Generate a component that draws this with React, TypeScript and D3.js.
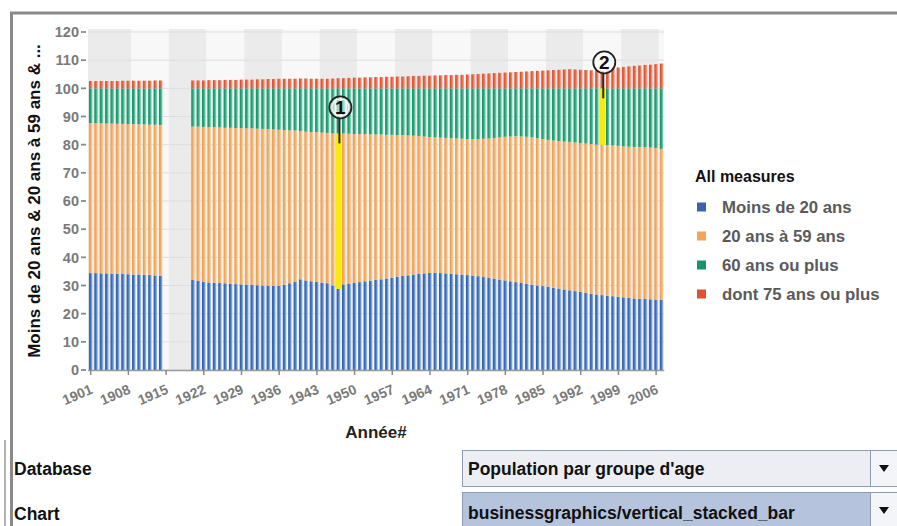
import React from 'react';
import * as d3 from 'd3';

// ---------- DATA ----------
const dataYears: number[] = [...d3.range(1901, 1915), ...d3.range(1920, 2008)];
const axisYears: number[] = d3.range(1901, 2008);
const tickYears: number[] = d3.range(1901, 2007, 7);
const yTicks: number[] = d3.range(0, 121, 10);

const seriesKeys = ['Moins de 20 ans', '20 ans à 59 ans', '60 ans ou plus', 'dont 75 ans ou plus'];

const under20: number[] = [
  34.4, 34.4, 34.3, 34.3, 34.2, 34.1, 34.1, 34.0, 33.9, 33.9, 33.8, 33.7, 33.6, 33.4,
  32.0, 31.6, 31.3, 31.1, 31.0, 30.9, 30.8, 30.6, 30.5, 30.4,
  30.3, 30.2, 30.1, 30.0, 30.0, 29.9, 29.9, 30.3, 30.8, 31.4,
  32.2, 31.8, 31.5, 31.3, 31.0, 30.8, 30.0, 28.8, 30.4, 30.7,
  30.9, 31.2, 31.5, 31.7, 32.0, 32.2, 32.5, 32.8, 33.1, 33.4,
  33.6, 33.9, 34.1, 34.3, 34.5, 34.5, 34.4, 34.3, 34.2, 34.0,
  33.9, 33.7, 33.5, 33.3, 33.0, 32.7, 32.4, 32.1, 31.8, 31.5,
  31.2, 30.9, 30.6, 30.3, 30.0, 29.8, 29.5, 29.2, 28.9, 28.6,
  28.3, 28.0, 27.7, 27.4, 27.1, 26.8, 26.6, 26.4, 26.2, 26.0,
  25.8, 25.6, 25.4, 25.3, 25.2, 25.1, 25.0, 24.9,
];

const age20to59: number[] = [
  53.3, 53.2, 53.3, 53.2, 53.3, 53.3, 53.3, 53.3, 53.4, 53.3, 53.4, 53.4, 53.5, 53.6,
  54.4, 54.8, 55.0, 55.1, 55.2, 55.2, 55.2, 55.4, 55.4, 55.5,
  55.5, 55.6, 55.6, 55.6, 55.5, 55.5, 55.4, 54.9, 54.3, 53.6,
  52.6, 52.8, 53.0, 53.1, 53.3, 53.4, 54.0, 55.2, 53.6, 53.2,
  52.9, 52.6, 52.2, 52.0, 51.6, 51.4, 51.0, 50.7, 50.3, 50.0,
  49.7, 49.3, 49.0, 48.6, 48.2, 48.1, 48.1, 48.1, 48.1, 48.2,
  48.2, 48.3, 48.5, 48.7, 49.1, 49.5, 50.0, 50.5, 51.0, 51.4,
  51.8, 52.0, 52.2, 52.3, 52.3, 52.2, 52.2, 52.3, 52.4, 52.5,
  52.7, 52.8, 52.9, 53.0, 53.1, 53.2, 53.3, 53.4, 53.5, 53.6,
  53.6, 53.7, 53.8, 53.9, 53.9, 53.9, 53.8, 53.6,
];

const age60plus: number[] = [
  12.3, 12.4, 12.4, 12.5, 12.5, 12.6, 12.6, 12.7, 12.7, 12.8, 12.8, 12.9, 12.9, 13.0,
  13.6, 13.6, 13.7, 13.8, 13.8, 13.9, 14.0, 14.0, 14.1, 14.1,
  14.2, 14.2, 14.3, 14.4, 14.5, 14.6, 14.7, 14.8, 14.9, 15.0,
  15.2, 15.4, 15.5, 15.6, 15.7, 15.8, 16.0, 16.0, 16.0, 16.1,
  16.2, 16.2, 16.3, 16.3, 16.4, 16.4, 16.5, 16.5, 16.6, 16.6,
  16.7, 16.8, 16.9, 17.1, 17.3, 17.4, 17.5, 17.6, 17.7, 17.8,
  17.9, 18.0, 18.0, 18.0, 17.9, 17.8, 17.6, 17.4, 17.2, 17.1,
  17.0, 17.1, 17.2, 17.4, 17.7, 18.0, 18.3, 18.5, 18.7, 18.9,
  19.0, 19.2, 19.4, 19.6, 19.8, 20.0, 20.1, 20.2, 20.3, 20.4,
  20.6, 20.7, 20.8, 20.8, 20.9, 21.0, 21.2, 21.5,
];

const age75plus: number[] = [
  2.6, 2.6, 2.6, 2.6, 2.6, 2.6, 2.7, 2.7, 2.7, 2.7, 2.7, 2.7, 2.8, 2.8,
  2.8, 2.8, 2.8, 2.9, 2.9, 2.9, 3.0, 3.0, 3.0, 3.1,
  3.1, 3.1, 3.2, 3.2, 3.3, 3.3, 3.4, 3.4, 3.4, 3.4,
  3.5, 3.5, 3.4, 3.4, 3.4, 3.4, 3.5, 3.6, 3.6, 3.7,
  3.8, 3.8, 3.9, 3.9, 4.0, 4.0, 4.1, 4.1, 4.2, 4.2,
  4.3, 4.4, 4.4, 4.5, 4.5, 4.6, 4.6, 4.7, 4.7, 4.8,
  4.8, 4.9, 5.0, 5.1, 5.2, 5.3, 5.4, 5.5, 5.6, 5.7,
  5.8, 5.9, 6.0, 6.1, 6.2, 6.3, 6.4, 6.5, 6.6, 6.7,
  6.8, 6.7, 6.6, 6.5, 6.4, 6.4, 6.5, 6.8, 7.1, 7.4,
  7.6, 7.8, 8.0, 8.1, 8.3, 8.4, 8.6, 8.8,
];

const highlightYears: number[] = [1947, 1996];
const highlightSeries: number[] = [1, 2];
const highlightLabels: string[] = ['1', '2'];

// ---------- STYLE ----------
const darkC = ['#2c5aa2', '#ee9a48', '#138c64', '#d94a2e'];
const midC = ['#3f72c2', '#f5ac62', '#24a57c', '#e8603f'];
const lightC = ['#a4c6f0', '#fcd8ac', '#86dcba', '#f7ab94'];
const legendC = ['#3a63ad', '#f2a458', '#17946c', '#e0522f'];

const W = 897;
const H = 526;
const plotL = 88;
const plotR = 664.2;
const plotT = 29;
const plotB = 370;
const FONT = "'Liberation Sans', Arial, sans-serif";

export default function App() {
  const x = d3.scaleBand<number>().domain(axisYears).range([plotL, plotR]).paddingInner(0.35).paddingOuter(0.175);
  const y = d3.scaleLinear().domain([0, 120]).range([plotB, 32]);
  const step = x.step();
  const bw = x.bandwidth();
  const cx = (yr: number) => (x(yr) as number) + bw / 2;

  const rows = dataYears.map((yr, i) => ({
    year: yr,
    [seriesKeys[0]]: under20[i],
    [seriesKeys[1]]: age20to59[i],
    [seriesKeys[2]]: age60plus[i],
    [seriesKeys[3]]: age75plus[i],
  }));
  const stacked = d3.stack<any>().keys(seriesKeys)(rows);

  const stripeEdges: number[] = [plotL, ...tickYears.slice(1).map((yr) => plotL + step * (axisYears.indexOf(yr) + 1)), plotR];
  const stripes = stripeEdges.slice(0, -1).map((x0, i) => ({ x0, x1: stripeEdges[i + 1], dark: i % 2 === 0 }));

  return (
    <svg width={W} height={H} style={{ position: 'absolute', left: 0, top: 0, background: '#ffffff' }} fontFamily={FONT}>
      <defs>
        {seriesKeys.map((k, i) => (
          <linearGradient key={k} id={`g${i}`} x1="0" x2="1" y1="0" y2="0">
            <stop offset="0" stopColor={darkC[i]} />
            <stop offset="0.45" stopColor={midC[i]} />
            <stop offset="1" stopColor={lightC[i]} />
          </linearGradient>
        ))}
      </defs>
      <rect x={0} y={0} width={W} height={H} fill="#ffffff" />

      {/* panel frame */}
      <line x1={10} x2={W} y1={13} y2={13} stroke="#8a8a8a" strokeWidth={3} />
      <line x1={11.5} x2={11.5} y1={12} y2={H} stroke="#8a8a8a" strokeWidth={3} />
      <line x1={5} x2={5} y1={440} y2={H} stroke="#9a9a9a" strokeWidth={1.5} />

      {/* plot background */}
      {stripes.map((s, i) => (
        <rect key={i} x={s.x0} y={plotT} width={s.x1 - s.x0} height={plotB - plotT} fill={s.dark ? '#ebebeb' : '#f8f8f8'} />
      ))}
      {yTicks.map((t) => (
        <line key={t} x1={plotL} x2={plotR} y1={y(t)} y2={y(t)} stroke="#dedede" strokeWidth={1} />
      ))}

      {/* bars */}
      {stacked.map((ser, si) => (
        <g key={ser.key} fill={`url(#g${si})`}>
          {ser.map((d: any) => (
            <rect key={d.data.year} x={x(d.data.year)} y={y(d[1])} width={bw} height={y(d[0]) - y(d[1])} />
          ))}
        </g>
      ))}

      {/* highlights */}
      {highlightYears.map((yr, i) => {
        const idx = dataYears.indexOf(yr);
        const seg = stacked[highlightSeries[i]][idx];
        const top = y(seg[1]);
        const bot = y(seg[0]);
        const c = cx(yr);
        const ccx = c + 2;
        const ccy = top - 26;
        return (
          <g key={yr}>
            <rect x={c - 3} y={top} width={6} height={bot - top} fill="#f7ea0c" />
            <line x1={ccx - 1} x2={ccx - 1} y1={ccy + 11} y2={top + 10} stroke="#2a2a2a" strokeWidth={2} />
            <circle cx={ccx} cy={ccy} r={11} fill="rgba(255,255,255,0.55)" stroke="#222" strokeWidth={1.8} />
            <circle cx={ccx} cy={ccy} r={8.5} fill="none" stroke="#ffffff" strokeWidth={1} />
            <text x={ccx} y={ccy} textAnchor="middle" dominantBaseline="central" fontSize={19} fontWeight="bold" fill="#111">
              {highlightLabels[i]}
            </text>
          </g>
        );
      })}

      {/* x axis */}
      <line x1={plotL} x2={plotR} y1={plotB + 0.5} y2={plotB + 0.5} stroke="#9a9a9a" strokeWidth={1.5} />
      {tickYears.map((yr) => (
        <g key={yr}>
          <line x1={cx(yr)} x2={cx(yr)} y1={plotB} y2={plotB + 5} stroke="#8a8a8a" strokeWidth={1.5} />
          <text transform={`translate(${cx(yr) + 3},${plotB + 23}) rotate(-23)`} textAnchor="end" fontSize={14} fontWeight="bold" fill="#7a7a7a">
            {yr}
          </text>
        </g>
      ))}

      {/* y axis */}
      {yTicks.map((t) => (
        <g key={t}>
          <line x1={81} x2={86} y1={y(t)} y2={y(t)} stroke="#8a8a8a" strokeWidth={1.8} />
          <text x={79} y={y(t)} dy="0.36em" textAnchor="end" fontSize={14.5} fontWeight="bold" fill="#7a7a7a">
            {t}
          </text>
        </g>
      ))}

      {/* axis titles */}
      <text transform="translate(40,201) rotate(-90)" textAnchor="middle" fontSize={17} fontWeight="bold" fill="#111">
        Moins de 20 ans &amp; 20 ans à 59 ans &amp; ...
      </text>
      <text x={376} y={438} textAnchor="middle" fontSize={17} fontWeight="bold" fill="#222">
        Année#
      </text>

      {/* legend */}
      <text x={695} y={176} dominantBaseline="central" fontSize={16} fontWeight="bold" fill="#111">
        All measures
      </text>
      {seriesKeys.map((k, i) => (
        <g key={k} transform={`translate(0,${207 + i * 29})`}>
          <rect x={697} y={-4.5} width={9} height={9} fill={legendC[i]} />
          <text x={722} y={0} dominantBaseline="central" fontSize={16.8} fontWeight="bold" fill="#5a5a5a">
            {k}
          </text>
        </g>
      ))}

      {/* bottom controls */}
      <text x={14} y={475} fontSize={17.5} fontWeight="bold" fill="#111">Database</text>
      <text x={14} y={520} fontSize={17.5} fontWeight="bold" fill="#111">Chart</text>

      <rect x={462.5} y={450.5} width={408} height={36} fill="#eceef3" stroke="#8f9db4" />
      <rect x={870.5} y={450.5} width={30} height={36} fill="#f3f5f8" stroke="#8f9db4" />
      <path d="M879,465 L889,465 L884,472 Z" fill="#111" />
      <text x={468} y={475} fontSize={17.5} fontWeight="bold" fill="#111">Population par groupe d'age</text>

      <rect x={462.5} y={492.5} width={408} height={40} fill="#b5c3dc" stroke="#8f9db4" />
      <rect x={870.5} y={492.5} width={30} height={40} fill="#f3f5f8" stroke="#8f9db4" />
      <path d="M879,507 L889,507 L884,514 Z" fill="#111" />
      <text x={468} y={519} fontSize={17.5} fontWeight="bold" fill="#111">businessgraphics/vertical_stacked_bar</text>
    </svg>
  );
}
